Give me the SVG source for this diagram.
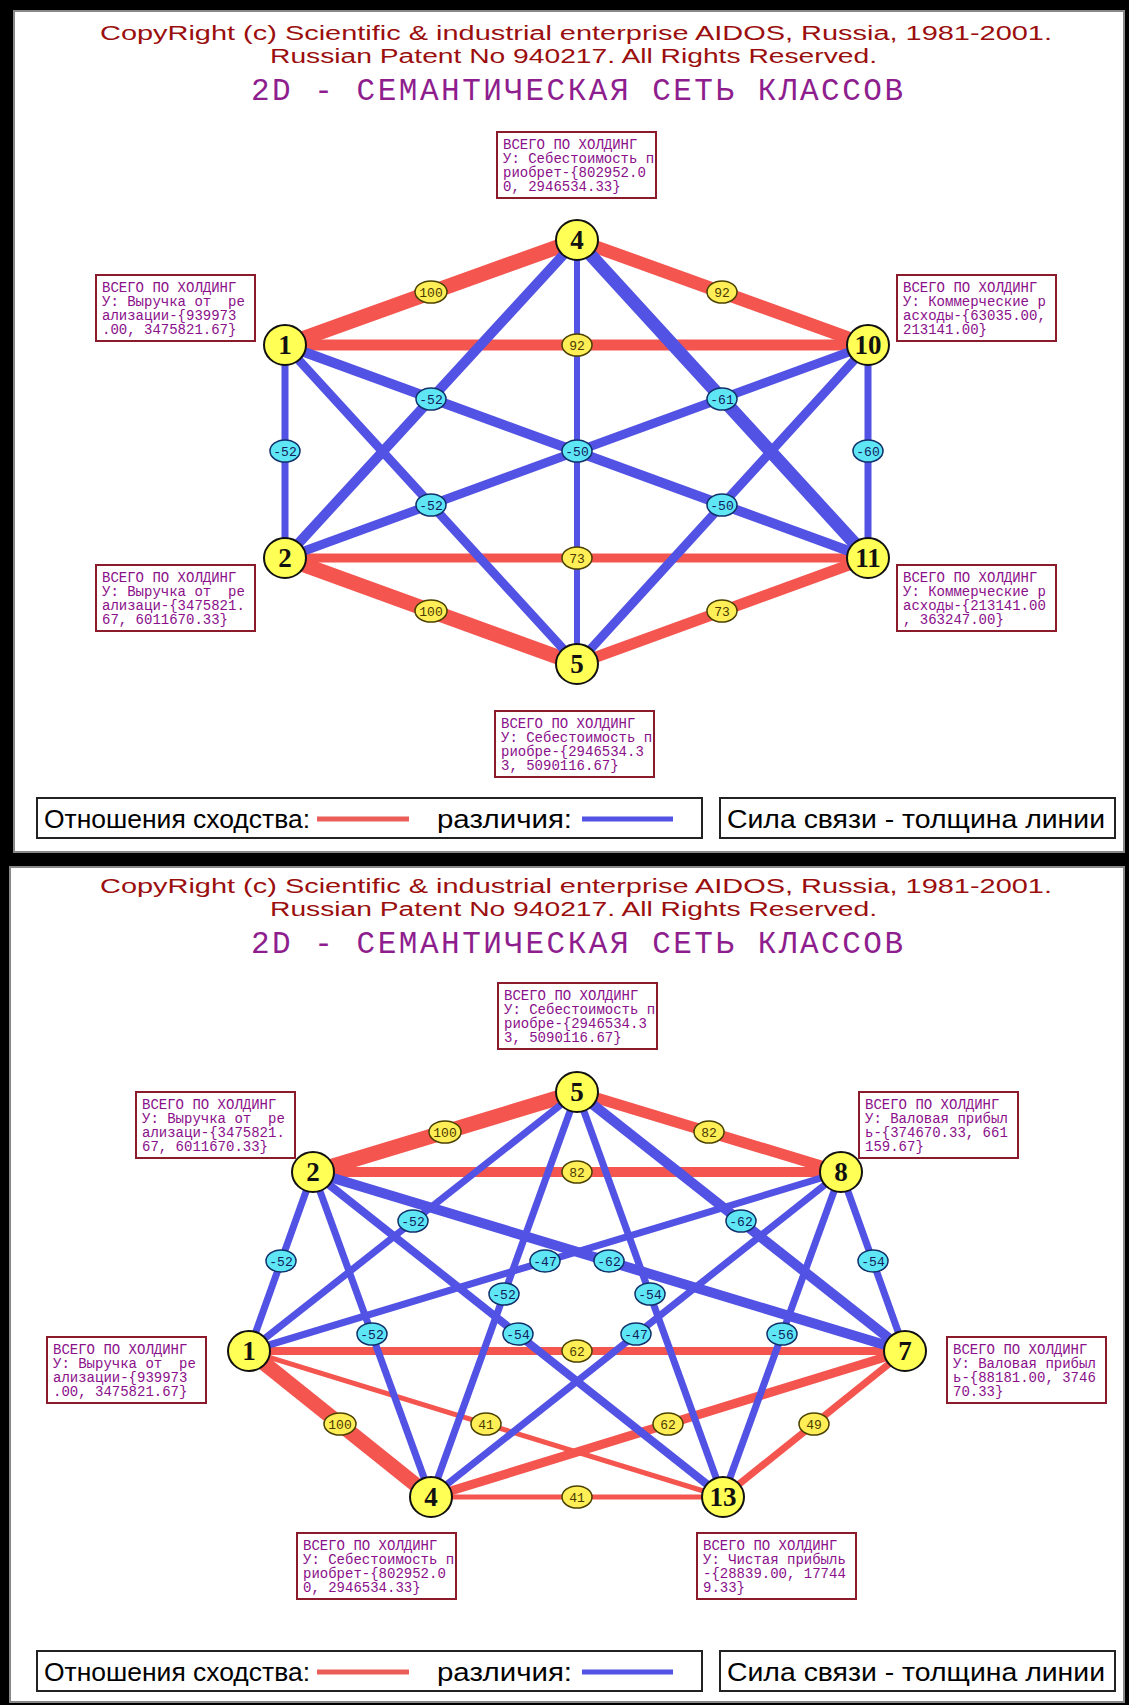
<svg xmlns="http://www.w3.org/2000/svg" width="1129" height="1705" viewBox="0 0 1129 1705">
<style>
.hdr{font-family:"Liberation Sans Narrow","Liberation Sans",Arial,sans-serif;font-size:20px;fill:#9b0e0e}
.ttl{font-family:"Liberation Mono","DejaVu Sans Mono",monospace;font-size:31px;fill:#8e1e8e}
.box rect{fill:#fff;stroke:#8b1a2a;stroke-width:2}
.box text{font-family:"Liberation Mono","DejaVu Sans Mono",monospace;font-size:14px;fill:#8a108a;white-space:pre}
.node ellipse{fill:#ffff55;stroke:#111;stroke-width:2}
.node text{font-family:"Liberation Serif","Times New Roman",serif;font-weight:bold;font-size:27px;fill:#111;text-anchor:middle}
.r{stroke:#f4554f;stroke-linecap:butt}
.b{stroke:#5252e4;stroke-linecap:butt}
.lp ellipse{fill:#ffee55;stroke:#4a4000;stroke-width:1.5}
.ln ellipse{fill:#5fe6f5;stroke:#10306a;stroke-width:1.5}
.lp text,.ln text{font-family:"Liberation Mono","DejaVu Sans Mono",monospace;font-size:13px;text-anchor:middle}
.lp text{fill:#4a3a00}
.ln text{fill:#10205a}
.leg rect{fill:#fff;stroke:#222;stroke-width:2}
.leg text{font-family:"Liberation Sans Narrow","Liberation Sans",Arial,sans-serif;font-size:25px;fill:#000}
</style>
<rect x="0" y="0" width="1129" height="1705" fill="#000"/>
<rect x="14" y="11" width="1110" height="841" fill="#fff" stroke="#888" stroke-width="2"/>
<rect x="10" y="867" width="1114" height="835" fill="#fff" stroke="#888" stroke-width="2"/>

<g id="header-top">
<text class="hdr" x="100" y="40" textLength="952" lengthAdjust="spacingAndGlyphs">CopyRight (c) Scientific &amp; industrial enterprise AIDOS, Russia, 1981-2001.</text>
<text class="hdr" x="270" y="63" textLength="607" lengthAdjust="spacingAndGlyphs">Russian Patent No 940217. All Rights Reserved.</text>
<text class="ttl" x="251" y="100" textLength="652" lengthAdjust="spacing">2D - СЕМАНТИЧЕСКАЯ СЕТЬ КЛАССОВ</text>
</g>
<g id="header-bottom">
<text class="hdr" x="100" y="893" textLength="952" lengthAdjust="spacingAndGlyphs">CopyRight (c) Scientific &amp; industrial enterprise AIDOS, Russia, 1981-2001.</text>
<text class="hdr" x="270" y="916" textLength="607" lengthAdjust="spacingAndGlyphs">Russian Patent No 940217. All Rights Reserved.</text>
<text class="ttl" x="251" y="953" textLength="652" lengthAdjust="spacing">2D - СЕМАНТИЧЕСКАЯ СЕТЬ КЛАССОВ</text>
</g>

<g id="connectors">
 <g id="edges-top">
  <line class="r" x1="285" y1="345" x2="577" y2="240" stroke-width="15"/>
  <line class="r" x1="577" y1="240" x2="868" y2="345" stroke-width="13"/>
  <line class="r" x1="285" y1="345" x2="868" y2="345" stroke-width="11"/>
  <line class="r" x1="285" y1="558" x2="577" y2="664" stroke-width="15"/>
  <line class="r" x1="577" y1="664" x2="868" y2="558" stroke-width="11"/>
  <line class="r" x1="285" y1="558" x2="868" y2="558" stroke-width="9"/>
  <line class="b" x1="285" y1="345" x2="285" y2="558" stroke-width="7"/>
  <line class="b" x1="868" y1="345" x2="868" y2="558" stroke-width="7"/>
  <line class="b" x1="577" y1="240" x2="577" y2="664" stroke-width="6"/>
  <line class="b" x1="285" y1="558" x2="577" y2="240" stroke-width="10"/>
  <line class="b" x1="285" y1="345" x2="577" y2="664" stroke-width="9"/>
  <line class="b" x1="577" y1="240" x2="868" y2="558" stroke-width="13"/>
  <line class="b" x1="577" y1="664" x2="868" y2="345" stroke-width="9"/>
  <line class="b" x1="285" y1="345" x2="868" y2="558" stroke-width="10"/>
  <line class="b" x1="285" y1="558" x2="868" y2="345" stroke-width="9"/>
 </g>
 <g id="edges-bottom">
  <line class="r" x1="313" y1="1172" x2="577" y2="1092" stroke-width="15"/>
  <line class="r" x1="577" y1="1092" x2="841" y2="1172" stroke-width="11"/>
  <line class="r" x1="313" y1="1172" x2="841" y2="1172" stroke-width="10"/>
  <line class="r" x1="249" y1="1351" x2="905" y2="1351" stroke-width="8"/>
  <line class="r" x1="249" y1="1351" x2="431" y2="1497" stroke-width="15"/>
  <line class="r" x1="249" y1="1351" x2="723" y2="1497" stroke-width="5"/>
  <line class="r" x1="431" y1="1497" x2="905" y2="1351" stroke-width="9"/>
  <line class="r" x1="905" y1="1351" x2="723" y2="1497" stroke-width="7"/>
  <line class="r" x1="431" y1="1497" x2="723" y2="1497" stroke-width="5"/>
  <line class="b" x1="249" y1="1351" x2="313" y2="1172" stroke-width="7"/>
  <line class="b" x1="249" y1="1351" x2="577" y2="1092" stroke-width="7"/>
  <line class="b" x1="313" y1="1172" x2="431" y2="1497" stroke-width="7"/>
  <line class="b" x1="249" y1="1351" x2="841" y2="1172" stroke-width="7"/>
  <line class="b" x1="313" y1="1172" x2="905" y2="1351" stroke-width="10"/>
  <line class="b" x1="577" y1="1092" x2="431" y2="1497" stroke-width="7"/>
  <line class="b" x1="577" y1="1092" x2="723" y2="1497" stroke-width="7"/>
  <line class="b" x1="313" y1="1172" x2="723" y2="1497" stroke-width="8"/>
  <line class="b" x1="841" y1="1172" x2="431" y2="1497" stroke-width="7"/>
  <line class="b" x1="577" y1="1092" x2="905" y2="1351" stroke-width="10"/>
  <line class="b" x1="841" y1="1172" x2="905" y2="1351" stroke-width="7"/>
  <line class="b" x1="841" y1="1172" x2="723" y2="1497" stroke-width="7"/>
 </g>
 <g id="edge-labels-top">
  <g class="lp"><ellipse cx="431" cy="292" rx="16" ry="11"/><text x="431" y="296.5">100</text></g>
  <g class="lp"><ellipse cx="722" cy="292" rx="15" ry="11"/><text x="722" y="296.5">92</text></g>
  <g class="lp"><ellipse cx="577" cy="345" rx="15" ry="11"/><text x="577" y="349.5">92</text></g>
  <g class="lp"><ellipse cx="431" cy="611" rx="16" ry="11"/><text x="431" y="615.5">100</text></g>
  <g class="lp"><ellipse cx="722" cy="611" rx="15" ry="11"/><text x="722" y="615.5">73</text></g>
  <g class="lp"><ellipse cx="577" cy="558" rx="15" ry="11"/><text x="577" y="562.5">73</text></g>
  <g class="ln"><ellipse cx="285" cy="451" rx="15" ry="11"/><text x="285" y="455.5">-52</text></g>
  <g class="ln"><ellipse cx="868" cy="451" rx="15" ry="11"/><text x="868" y="455.5">-60</text></g>
  <g class="ln"><ellipse cx="577" cy="451" rx="15" ry="11"/><text x="577" y="455.5">-50</text></g>
  <g class="ln"><ellipse cx="431" cy="399" rx="15" ry="11"/><text x="431" y="403.5">-52</text></g>
  <g class="ln"><ellipse cx="431" cy="505" rx="15" ry="11"/><text x="431" y="509.5">-52</text></g>
  <g class="ln"><ellipse cx="722" cy="399" rx="15" ry="11"/><text x="722" y="403.5">-61</text></g>
  <g class="ln"><ellipse cx="722" cy="505" rx="15" ry="11"/><text x="722" y="509.5">-50</text></g>
 </g>
 <g id="edge-labels-bottom">
  <g class="lp"><ellipse cx="445" cy="1132" rx="16" ry="11"/><text x="445" y="1136.5">100</text></g>
  <g class="lp"><ellipse cx="709" cy="1132" rx="15" ry="11"/><text x="709" y="1136.5">82</text></g>
  <g class="lp"><ellipse cx="577" cy="1172" rx="15" ry="11"/><text x="577" y="1176.5">82</text></g>
  <g class="lp"><ellipse cx="577" cy="1351" rx="15" ry="11"/><text x="577" y="1355.5">62</text></g>
  <g class="lp"><ellipse cx="340" cy="1424" rx="16" ry="11"/><text x="340" y="1428.5">100</text></g>
  <g class="lp"><ellipse cx="486" cy="1424" rx="15" ry="11"/><text x="486" y="1428.5">41</text></g>
  <g class="lp"><ellipse cx="668" cy="1424" rx="15" ry="11"/><text x="668" y="1428.5">62</text></g>
  <g class="lp"><ellipse cx="814" cy="1424" rx="15" ry="11"/><text x="814" y="1428.5">49</text></g>
  <g class="lp"><ellipse cx="577" cy="1497" rx="15" ry="11"/><text x="577" y="1501.5">41</text></g>
  <g class="ln"><ellipse cx="281" cy="1261" rx="15" ry="11"/><text x="281" y="1265.5">-52</text></g>
  <g class="ln"><ellipse cx="413" cy="1221" rx="15" ry="11"/><text x="413" y="1225.5">-52</text></g>
  <g class="ln"><ellipse cx="372" cy="1334" rx="15" ry="11"/><text x="372" y="1338.5">-52</text></g>
  <g class="ln"><ellipse cx="545" cy="1261" rx="15" ry="11"/><text x="545" y="1265.5">-47</text></g>
  <g class="ln"><ellipse cx="609" cy="1261" rx="15" ry="11"/><text x="609" y="1265.5">-62</text></g>
  <g class="ln"><ellipse cx="504" cy="1294" rx="15" ry="11"/><text x="504" y="1298.5">-52</text></g>
  <g class="ln"><ellipse cx="650" cy="1294" rx="15" ry="11"/><text x="650" y="1298.5">-54</text></g>
  <g class="ln"><ellipse cx="518" cy="1334" rx="15" ry="11"/><text x="518" y="1338.5">-54</text></g>
  <g class="ln"><ellipse cx="636" cy="1334" rx="15" ry="11"/><text x="636" y="1338.5">-47</text></g>
  <g class="ln"><ellipse cx="741" cy="1221" rx="15" ry="11"/><text x="741" y="1225.5">-62</text></g>
  <g class="ln"><ellipse cx="873" cy="1261" rx="15" ry="11"/><text x="873" y="1265.5">-54</text></g>
  <g class="ln"><ellipse cx="782" cy="1334" rx="15" ry="11"/><text x="782" y="1338.5">-56</text></g>
 </g>
</g>

<g id="t-node1" class="node"><ellipse cx="285" cy="345" rx="21" ry="20"/><text x="285" y="354">1</text></g>
<g id="t-node4" class="node"><ellipse cx="577" cy="240" rx="21" ry="20"/><text x="577" y="249">4</text></g>
<g id="t-node10" class="node"><ellipse cx="868" cy="345" rx="21" ry="20"/><text x="868" y="354">10</text></g>
<g id="t-node2" class="node"><ellipse cx="285" cy="558" rx="21" ry="20"/><text x="285" y="567">2</text></g>
<g id="t-node11" class="node"><ellipse cx="868" cy="558" rx="21" ry="20"/><text x="868" y="567">11</text></g>
<g id="t-node5" class="node"><ellipse cx="577" cy="664" rx="21" ry="20"/><text x="577" y="673">5</text></g>

<g id="b-node5" class="node"><ellipse cx="577" cy="1092" rx="21" ry="20"/><text x="577" y="1101">5</text></g>
<g id="b-node2" class="node"><ellipse cx="313" cy="1172" rx="21" ry="20"/><text x="313" y="1181">2</text></g>
<g id="b-node8" class="node"><ellipse cx="841" cy="1172" rx="21" ry="20"/><text x="841" y="1181">8</text></g>
<g id="b-node1" class="node"><ellipse cx="249" cy="1351" rx="21" ry="20"/><text x="249" y="1360">1</text></g>
<g id="b-node7" class="node"><ellipse cx="905" cy="1351" rx="21" ry="20"/><text x="905" y="1360">7</text></g>
<g id="b-node4" class="node"><ellipse cx="431" cy="1497" rx="21" ry="20"/><text x="431" y="1506">4</text></g>
<g id="b-node13" class="node"><ellipse cx="723" cy="1497" rx="21" ry="20"/><text x="723" y="1506">13</text></g>

<g id="t-box4" class="box"><rect x="497" y="132" width="159" height="66"/>
<text xml:space="preserve" x="503" y="149"><tspan x="503">ВСЕГО ПО ХОЛДИНГ</tspan><tspan x="503" dy="14">У: Себестоимость п</tspan><tspan x="503" dy="14">риобрет-{802952.0</tspan><tspan x="503" dy="14">0, 2946534.33}</tspan></text></g>
<g id="t-box1" class="box"><rect x="96" y="275" width="159" height="66"/>
<text xml:space="preserve" x="102" y="292"><tspan x="102">ВСЕГО ПО ХОЛДИНГ</tspan><tspan x="102" dy="14">У: Выручка от  ре</tspan><tspan x="102" dy="14">ализации-{939973</tspan><tspan x="102" dy="14">.00, 3475821.67}</tspan></text></g>
<g id="t-box10" class="box"><rect x="897" y="275" width="159" height="66"/>
<text xml:space="preserve" x="903" y="292"><tspan x="903">ВСЕГО ПО ХОЛДИНГ</tspan><tspan x="903" dy="14">У: Коммерческие р</tspan><tspan x="903" dy="14">асходы-{63035.00,</tspan><tspan x="903" dy="14">213141.00}</tspan></text></g>
<g id="t-box2" class="box"><rect x="96" y="565" width="159" height="66"/>
<text xml:space="preserve" x="102" y="582"><tspan x="102">ВСЕГО ПО ХОЛДИНГ</tspan><tspan x="102" dy="14">У: Выручка от  ре</tspan><tspan x="102" dy="14">ализаци-{3475821.</tspan><tspan x="102" dy="14">67, 6011670.33}</tspan></text></g>
<g id="t-box11" class="box"><rect x="897" y="565" width="159" height="66"/>
<text xml:space="preserve" x="903" y="582"><tspan x="903">ВСЕГО ПО ХОЛДИНГ</tspan><tspan x="903" dy="14">У: Коммерческие р</tspan><tspan x="903" dy="14">асходы-{213141.00</tspan><tspan x="903" dy="14">, 363247.00}</tspan></text></g>
<g id="t-box5" class="box"><rect x="495" y="711" width="159" height="66"/>
<text xml:space="preserve" x="501" y="728"><tspan x="501">ВСЕГО ПО ХОЛДИНГ</tspan><tspan x="501" dy="14">У: Себестоимость п</tspan><tspan x="501" dy="14">риобре-{2946534.3</tspan><tspan x="501" dy="14">3, 5090116.67}</tspan></text></g>

<g id="b-box5" class="box"><rect x="498" y="983" width="159" height="66"/>
<text xml:space="preserve" x="504" y="1000"><tspan x="504">ВСЕГО ПО ХОЛДИНГ</tspan><tspan x="504" dy="14">У: Себестоимость п</tspan><tspan x="504" dy="14">риобре-{2946534.3</tspan><tspan x="504" dy="14">3, 5090116.67}</tspan></text></g>
<g id="b-box2" class="box"><rect x="136" y="1092" width="159" height="66"/>
<text xml:space="preserve" x="142" y="1109"><tspan x="142">ВСЕГО ПО ХОЛДИНГ</tspan><tspan x="142" dy="14">У: Выручка от  ре</tspan><tspan x="142" dy="14">ализаци-{3475821.</tspan><tspan x="142" dy="14">67, 6011670.33}</tspan></text></g>
<g id="b-box8" class="box"><rect x="859" y="1092" width="159" height="66"/>
<text xml:space="preserve" x="865" y="1109"><tspan x="865">ВСЕГО ПО ХОЛДИНГ</tspan><tspan x="865" dy="14">У: Валовая прибыл</tspan><tspan x="865" dy="14">ь-{374670.33, 661</tspan><tspan x="865" dy="14">159.67}</tspan></text></g>
<g id="b-box1" class="box"><rect x="47" y="1337" width="159" height="66"/>
<text xml:space="preserve" x="53" y="1354"><tspan x="53">ВСЕГО ПО ХОЛДИНГ</tspan><tspan x="53" dy="14">У: Выручка от  ре</tspan><tspan x="53" dy="14">ализации-{939973</tspan><tspan x="53" dy="14">.00, 3475821.67}</tspan></text></g>
<g id="b-box7" class="box"><rect x="947" y="1337" width="159" height="66"/>
<text xml:space="preserve" x="953" y="1354"><tspan x="953">ВСЕГО ПО ХОЛДИНГ</tspan><tspan x="953" dy="14">У: Валовая прибыл</tspan><tspan x="953" dy="14">ь-{88181.00, 3746</tspan><tspan x="953" dy="14">70.33}</tspan></text></g>
<g id="b-box4" class="box"><rect x="297" y="1533" width="159" height="66"/>
<text xml:space="preserve" x="303" y="1550"><tspan x="303">ВСЕГО ПО ХОЛДИНГ</tspan><tspan x="303" dy="14">У: Себестоимость п</tspan><tspan x="303" dy="14">риобрет-{802952.0</tspan><tspan x="303" dy="14">0, 2946534.33}</tspan></text></g>
<g id="b-box13" class="box"><rect x="697" y="1533" width="159" height="66"/>
<text xml:space="preserve" x="703" y="1550"><tspan x="703">ВСЕГО ПО ХОЛДИНГ</tspan><tspan x="703" dy="14">У: Чистая прибыль</tspan><tspan x="703" dy="14">-{28839.00, 17744</tspan><tspan x="703" dy="14">9.33}</tspan></text></g>

<g id="t-legend" class="leg">
<rect x="37" y="798" width="665" height="40"/>
<text x="44" y="828" textLength="266" lengthAdjust="spacingAndGlyphs">Отношения сходства:</text>
<line x1="317" y1="819" x2="409" y2="819" stroke="#ea5d58" stroke-width="5"/>
<text x="437" y="828" textLength="135" lengthAdjust="spacingAndGlyphs">различия:</text>
<line x1="582" y1="819" x2="673" y2="819" stroke="#5252e4" stroke-width="5"/>
<rect x="720" y="798" width="395" height="40"/>
<text x="727" y="828" textLength="378" lengthAdjust="spacingAndGlyphs">Сила связи - толщина линии</text>
</g>
<g id="b-legend" class="leg">
<rect x="37" y="1651" width="665" height="40"/>
<text x="44" y="1681" textLength="266" lengthAdjust="spacingAndGlyphs">Отношения сходства:</text>
<line x1="317" y1="1672" x2="409" y2="1672" stroke="#ea5d58" stroke-width="5"/>
<text x="437" y="1681" textLength="135" lengthAdjust="spacingAndGlyphs">различия:</text>
<line x1="582" y1="1672" x2="673" y2="1672" stroke="#5252e4" stroke-width="5"/>
<rect x="720" y="1651" width="395" height="40"/>
<text x="727" y="1681" textLength="378" lengthAdjust="spacingAndGlyphs">Сила связи - толщина линии</text>
</g>
</svg>
